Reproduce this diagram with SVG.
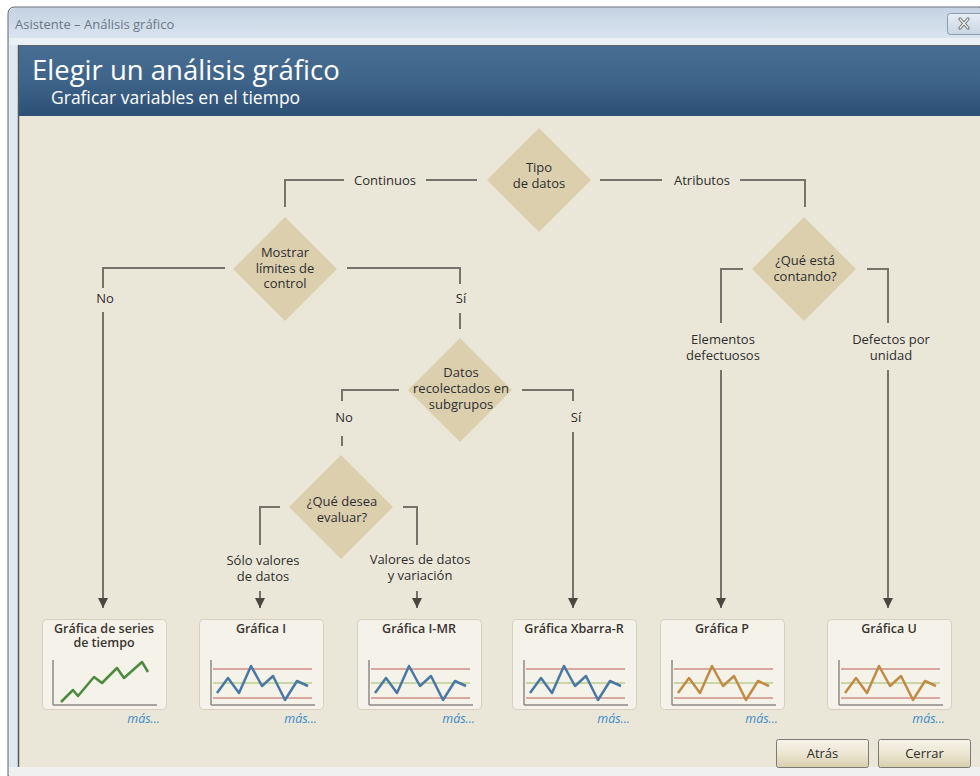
<svg xmlns="http://www.w3.org/2000/svg" width="980" height="776" viewBox="0 0 980 776">
  <defs>
    <linearGradient id="titlebar" x1="0" y1="0" x2="0" y2="1">
      <stop offset="0" stop-color="#c4d2e2"/>
      <stop offset="1" stop-color="#d9e4ef"/>
    </linearGradient>
    <linearGradient id="header" x1="0" y1="0" x2="0" y2="1">
      <stop offset="0" stop-color="#486e94"/>
      <stop offset="0.5" stop-color="#3f6489"/>
      <stop offset="1" stop-color="#2c4f75"/>
    </linearGradient>
    <linearGradient id="btn" x1="0" y1="0" x2="0" y2="1">
      <stop offset="0" stop-color="#f6f3ea"/>
      <stop offset="0.5" stop-color="#ece6d2"/>
      <stop offset="1" stop-color="#d8cfae"/>
    </linearGradient>
    <linearGradient id="closebtn" x1="0" y1="0" x2="0" y2="1">
      <stop offset="0" stop-color="#e6edf5"/>
      <stop offset="1" stop-color="#c9d6e4"/>
    </linearGradient>
    <marker id="arrow" viewBox="0 0 10 10" refX="10" refY="5" markerWidth="10" markerHeight="10" markerUnits="userSpaceOnUse" orient="auto">
      <path d="M0,0 L10,5 L0,10 Z" fill="#4a4741"/>
    </marker>
    <g id="ctl-axes">
      <line x1="12" y1="41" x2="12" y2="86" stroke="#8c8a84" stroke-width="1.5"/>
      <line x1="12" y1="86" x2="116" y2="86" stroke="#8c8a84" stroke-width="1.5"/>
      <line x1="14" y1="50" x2="113" y2="50" stroke="#d8a8a0" stroke-width="2"/>
      <line x1="14" y1="79" x2="113" y2="79" stroke="#d8a8a0" stroke-width="2"/>
      <line x1="14" y1="64" x2="113" y2="64" stroke="#c9d6a6" stroke-width="2"/>
    </g>
  </defs>
  <style>
    .lbl { font-family: "Open Sans", "Noto Sans", "Liberation Sans", sans-serif; font-size: 13px; fill: #2e2e2e; text-anchor: middle; }
    .ttl { font-family: "Open Sans", "Noto Sans", "Liberation Sans", sans-serif; font-size: 12.5px; font-weight: 600; fill: #3a3530; text-anchor: middle; }
    .more { font-family: "Open Sans", "Noto Sans", "Liberation Sans", sans-serif; font-size: 12.5px; font-style: italic; fill: #3b8bcb; text-anchor: end; }
    .diamond { fill: #dccfae; }
    .card { fill: #f5f2ea; stroke: #d6d0bf; stroke-width: 1; }
    .conn { fill: none; stroke: #77736a; stroke-width: 2; }
    .btxt { font-family: "Open Sans", "Noto Sans", "Liberation Sans", sans-serif; font-size: 13px; fill: #2e2e2e; text-anchor: middle; }
  </style>

  <!-- window frame -->
  <rect x="0" y="0" width="980" height="776" fill="#ffffff"/>
  <path d="M8,776 V14 Q8,7 15,7 H980 V776 Z" fill="#dfe7f0" stroke="#5d6670" stroke-width="1"/>
  <path d="M9,38 V15 Q9,8 16,8 H980 V38 Z" fill="url(#titlebar)"/>
  <rect x="9" y="38" width="971" height="7" fill="#ebf0f5"/>
  <text x="15" y="29" font-family="Open Sans, Noto Sans, Liberation Sans, sans-serif" font-size="13" fill="#6b7886">Asistente – Análisis gráfico</text>

  <!-- close button -->
  <g id="close-button">
    <rect x="947.5" y="13.5" width="40" height="21" rx="3" fill="url(#closebtn)" stroke="#8b9cb1"/>
    <path d="M960,19 L968,28 M968,19 L960,28" stroke="#6e6e6e" stroke-width="3.2" stroke-linecap="round"/>
    <path d="M960,19 L968,28 M968,19 L960,28" stroke="#f4f4f4" stroke-width="1.2" stroke-linecap="round"/>
  </g>

  <!-- header band -->
  <rect x="18" y="45" width="962" height="71" fill="url(#header)"/>
  <line x1="18" y1="45.5" x2="980" y2="45.5" stroke="#5a6570"/>
  <text x="32" y="80" font-family="Open Sans, Noto Sans, Liberation Sans, sans-serif" font-size="27.5" fill="#ffffff">Elegir un análisis gráfico</text>
  <text x="51" y="104" font-family="Open Sans, Noto Sans, Liberation Sans, sans-serif" font-size="17.5" fill="#ffffff">Graficar variables en el tiempo</text>

  <!-- body -->
  <rect x="18" y="116" width="962" height="651" fill="#ebe7d8"/>
  <line x1="18.5" y1="45" x2="18.5" y2="767" stroke="#55585c" stroke-width="1.5"/>
  <rect x="9" y="767" width="971" height="9" fill="#f0f0f0"/>

  <!-- connectors -->
  <g id="connectors">
    <path class="conn" d="M477,180 H426 M344,180 H285 V207"/>
    <path class="conn" d="M600,180 H662 M740,180 H805 V207"/>
    <path class="conn" d="M225,268 H103 V288"/>
    <path class="conn" d="M103,312 V608" marker-end="url(#arrow)"/>
    <path class="conn" d="M347,268 H460 V284"/>
    <path class="conn" d="M460,313 V329"/>
    <path class="conn" d="M399,390 H342 V401"/>
    <path class="conn" d="M342,436 V446"/>
    <path class="conn" d="M522,390 H573 V401"/>
    <path class="conn" d="M573,432 V608" marker-end="url(#arrow)"/>
    <path class="conn" d="M280,507 H260 V545"/>
    <path class="conn" d="M260,591 V608" marker-end="url(#arrow)"/>
    <path class="conn" d="M403,507 H417 V545"/>
    <path class="conn" d="M417,591 V608" marker-end="url(#arrow)"/>
    <path class="conn" d="M743,269 H721 V323"/>
    <path class="conn" d="M721,370 V608" marker-end="url(#arrow)"/>
    <path class="conn" d="M867,269 H888 V323"/>
    <path class="conn" d="M888,370 V608" marker-end="url(#arrow)"/>
    <text class="lbl" x="385" y="184.5">Continuos</text>
    <text class="lbl" x="702" y="184.5">Atributos</text>
    <text class="lbl" x="105" y="302.5">No</text>
    <text class="lbl" x="461" y="302.5">Sí</text>
    <text class="lbl" x="344" y="421.5">No</text>
    <text class="lbl" x="576" y="421.5">Sí</text>
    <text class="lbl" x="263" y="565">Sólo valores</text>
    <text class="lbl" x="263" y="581">de datos</text>
    <text class="lbl" x="420" y="564">Valores de datos</text>
    <text class="lbl" x="420" y="580">y variación</text>
    <text class="lbl" x="723" y="344">Elementos</text>
    <text class="lbl" x="723" y="360">defectuosos</text>
    <text class="lbl" x="891" y="344">Defectos por</text>
    <text class="lbl" x="891" y="360">unidad</text>
  </g>

  <!-- decision nodes -->
  <g id="tipo-datos">
    <polygon class="diamond" points="539,128 591,180 539,232 487,180"/>
    <text class="lbl" x="539" y="172">Tipo</text>
    <text class="lbl" x="539" y="188">de datos</text>
  </g>
  <g id="mostrar-limites">
    <polygon class="diamond" points="285,217 337,269 285,321 233,269"/>
    <text class="lbl" x="285" y="257">Mostrar</text>
    <text class="lbl" x="285" y="272.5">límites de</text>
    <text class="lbl" x="285" y="288">control</text>
  </g>
  <g id="que-esta-contando">
    <polygon class="diamond" points="804,217 856,269 804,321 752,269"/>
    <text class="lbl" x="805" y="265">¿Qué está</text>
    <text class="lbl" x="805" y="281">contando?</text>
  </g>
  <g id="datos-subgrupos">
    <polygon class="diamond" points="460,338 512,390 460,442 408,390"/>
    <text class="lbl" x="461" y="377">Datos</text>
    <text class="lbl" x="461" y="393">recolectados en</text>
    <text class="lbl" x="461" y="409">subgrupos</text>
  </g>
  <g id="que-desea-evaluar">
    <polygon class="diamond" points="341,455 393,507 341,559 289,507"/>
    <text class="lbl" x="342" y="506">¿Qué desea</text>
    <text class="lbl" x="342" y="521.5">evaluar?</text>
  </g>

  <!-- result cards -->
  <g id="grafica-series" transform="translate(42,619)">
    <rect class="card" x="0.5" y="0.5" width="124" height="90" rx="4"/>
    <text class="ttl" x="62" y="14">Gráfica de series</text>
    <text class="ttl" x="62" y="28">de tiempo</text>
    <line x1="11" y1="41" x2="11" y2="86" stroke="#8c8a84" stroke-width="1.5"/>
    <line x1="11" y1="86" x2="115" y2="86" stroke="#8c8a84" stroke-width="1.5"/>
    <polyline points="19,83 31,71 36,77 52,58 60,64 75,49 82,59 100,43 106,53" fill="none" stroke="#4b8a3e" stroke-width="2.5" stroke-linejoin="round"/>
    <text class="more" x="118" y="104">más...</text>
  </g>
  <g id="grafica-i" transform="translate(199,619)">
    <rect class="card" x="0.5" y="0.5" width="124" height="90" rx="4"/>
    <text class="ttl" x="62" y="14">Gráfica I</text>
    <use href="#ctl-axes"/>
    <polyline points="18,74 29,59 40,74 52,47 63,67 74,57 86,81 98,62 109,67" fill="none" stroke="#4a78a4" stroke-width="2.5" stroke-linejoin="round"/>
    <text class="more" x="118" y="104">más...</text>
  </g>
  <g id="grafica-imr" transform="translate(357,619)">
    <rect class="card" x="0.5" y="0.5" width="124" height="90" rx="4"/>
    <text class="ttl" x="62" y="14">Gráfica I-MR</text>
    <use href="#ctl-axes"/>
    <polyline points="18,74 29,59 40,74 52,47 63,67 74,57 86,81 98,62 109,67" fill="none" stroke="#4a78a4" stroke-width="2.5" stroke-linejoin="round"/>
    <text class="more" x="118" y="104">más...</text>
  </g>
  <g id="grafica-xbarra-r" transform="translate(512,619)">
    <rect class="card" x="0.5" y="0.5" width="124" height="90" rx="4"/>
    <text class="ttl" x="62" y="14">Gráfica Xbarra-R</text>
    <use href="#ctl-axes"/>
    <polyline points="18,74 29,59 40,74 52,47 63,67 74,57 86,81 98,62 109,67" fill="none" stroke="#4a78a4" stroke-width="2.5" stroke-linejoin="round"/>
    <text class="more" x="118" y="104">más...</text>
  </g>
  <g id="grafica-p" transform="translate(660,619)">
    <rect class="card" x="0.5" y="0.5" width="124" height="90" rx="4"/>
    <text class="ttl" x="62" y="14">Gráfica P</text>
    <use href="#ctl-axes"/>
    <polyline points="18,74 29,59 40,74 52,47 63,67 74,57 86,81 98,62 109,67" fill="none" stroke="#c08c45" stroke-width="2.5" stroke-linejoin="round"/>
    <text class="more" x="118" y="104">más...</text>
  </g>
  <g id="grafica-u" transform="translate(827,619)">
    <rect class="card" x="0.5" y="0.5" width="124" height="90" rx="4"/>
    <text class="ttl" x="62" y="14">Gráfica U</text>
    <use href="#ctl-axes"/>
    <polyline points="18,74 29,59 40,74 52,47 63,67 74,57 86,81 98,62 109,67" fill="none" stroke="#c08c45" stroke-width="2.5" stroke-linejoin="round"/>
    <text class="more" x="118" y="104">más...</text>
  </g>

  <!-- dialog buttons -->
  <g id="btn-atras">
    <rect x="776.5" y="739.5" width="92" height="28" rx="2" fill="url(#btn)" stroke="#7c7a74"/>
    <text class="btxt" x="822.5" y="758">Atrás</text>
  </g>
  <g id="btn-cerrar">
    <rect x="878.5" y="739.5" width="92" height="28" rx="2" fill="url(#btn)" stroke="#7c7a74"/>
    <text class="btxt" x="924.5" y="758">Cerrar</text>
  </g>
</svg>
